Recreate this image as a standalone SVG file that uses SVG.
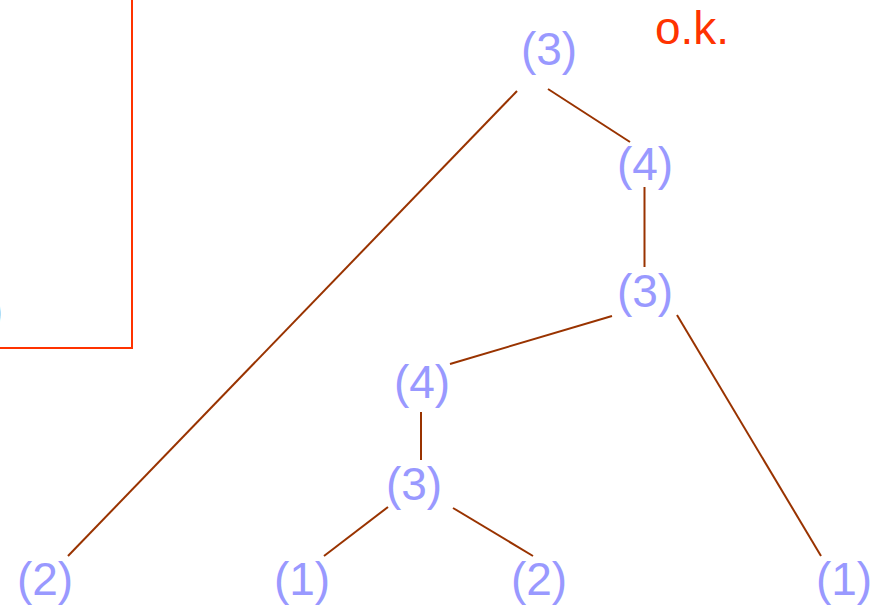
<svg xmlns="http://www.w3.org/2000/svg" width="876" height="605" viewBox="0 0 876 605">
<style>
.n{font-family:"Liberation Sans",Arial,sans-serif;font-size:46px;fill:#9999FF;text-anchor:middle}
.e{stroke:#993300;stroke-width:2;fill:none;stroke-linecap:butt}
</style>
<rect x="0" y="0" width="876" height="605" fill="#FFFFFF"/>
<rect x="-10" y="-10" width="142" height="358" fill="none" stroke="#FF3300" stroke-width="2"/>
<text x="3" y="326" font-family="Liberation Sans,Arial,sans-serif" font-size="46" fill="#777777" text-anchor="end">)</text>
<text x="655" y="44" font-family="Liberation Sans,Arial,sans-serif" font-size="46" fill="#FF3300">o.k.</text>
<g id="connectors">
<line class="e" x1="517" y1="91" x2="68" y2="556"/>
<line class="e" x1="548" y1="89" x2="630" y2="142"/>
<line class="e" x1="644.5" y1="187" x2="644.5" y2="267"/>
<line class="e" x1="612" y1="316" x2="450" y2="364"/>
<line class="e" x1="677" y1="315" x2="821" y2="556"/>
<line class="e" x1="421" y1="412" x2="421" y2="460"/>
<line class="e" x1="388" y1="507" x2="324" y2="556"/>
<line class="e" x1="453" y1="508" x2="533" y2="556"/>
</g>
<g id="n1"><text class="n" x="549" y="65">(3)</text></g>
<g id="n2"><text class="n" x="645" y="180">(4)</text></g>
<g id="n3"><text class="n" x="645" y="307">(3)</text></g>
<g id="n4"><text class="n" x="422" y="398">(4)</text></g>
<g id="n5"><text class="n" x="414" y="500">(3)</text></g>
<g id="n6"><text class="n" x="45" y="595">(2)</text></g>
<g id="n7"><text class="n" x="302" y="595">(1)</text></g>
<g id="n8"><text class="n" x="539" y="595">(2)</text></g>
<g id="n9"><text class="n" x="844" y="595">(1)</text></g>
</svg>
